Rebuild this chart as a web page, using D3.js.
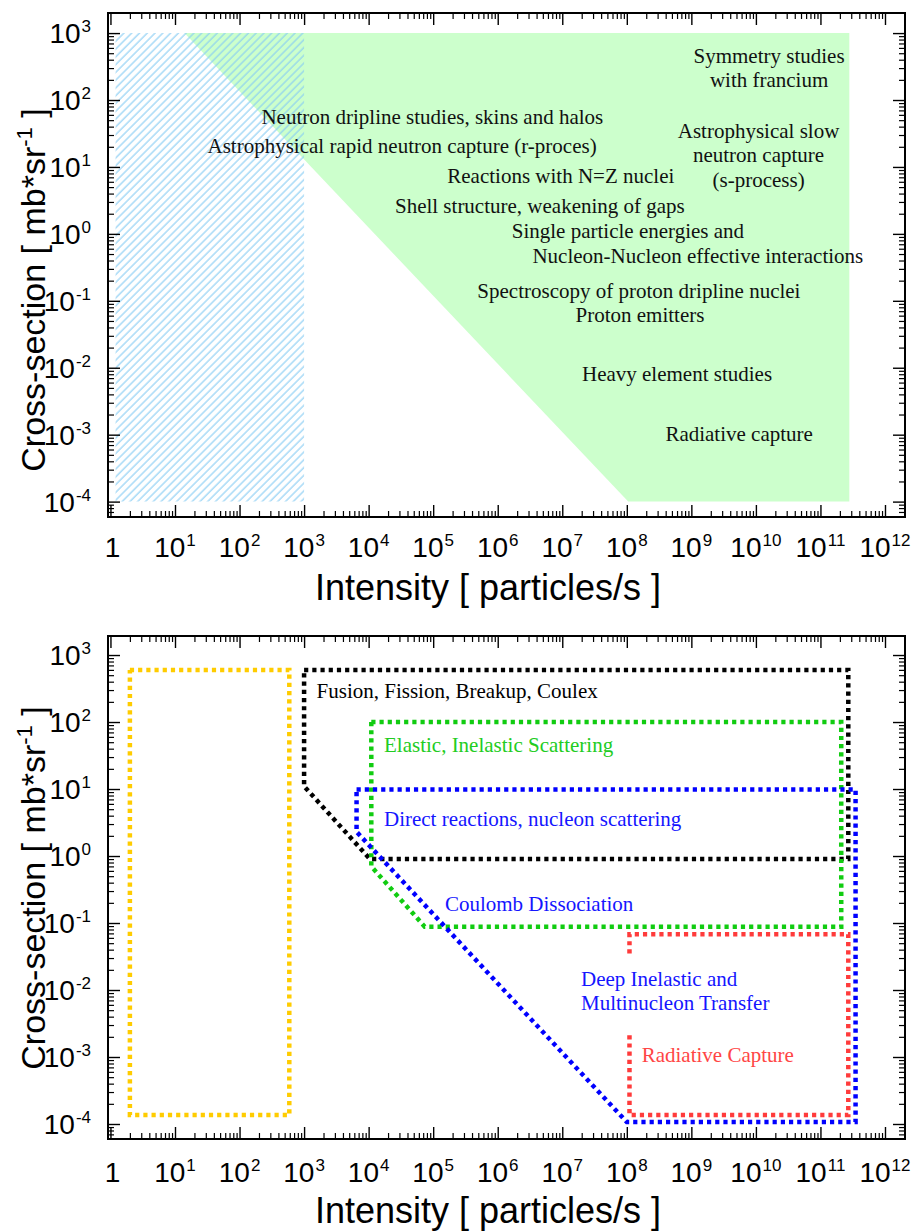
<!DOCTYPE html>
<html>
<head>
<meta charset="utf-8">
<script src="https://cdn.jsdelivr.net/npm/d3@7"></script>
<style>
  body { margin: 0; background: #fff; }
  svg { display: block; }
</style>
</head>
<body>
<svg id="chart" width="911" height="1231"></svg>
<script>
// ---- axis decades (exponents of the labelled ticks) ----
const xDecades = d3.range(0, 13);      // 1 .. 10^12 particles/s
const yDecades = d3.range(-4, 4);      // 10^-4 .. 10^3 mb/sr

// ---- upper panel: reach of the facility ----
// region below 10^3 particles/s (hatched)
const lowIntensityRegion = [[1.2, 1e-4], [1e3, 1e-4], [1e3, 1e3], [1.2, 1e3]];
// accessible region: intensity x cross-section above the limit line
const accessibleRegion = [[14, 1e3], [2.8e11, 1e3], [2.8e11, 1e-4], [1.05e8, 1e-4]];

// physics topics: [label, intensity, cross-section] (centre of text, baseline)
const physicsTopics = [
  ["Neutron dripline studies, skins and halos", 9.7e4, 44],
  ["Astrophysical rapid neutron capture (r-proces)", 3.3e4, 16.3],
  ["Reactions with N=Z nuclei", 9.5e6, 5.8],
  ["Shell structure, weakening of gaps", 4.5e6, 2.06],
  ["Single particle energies and", 1.04e8, 0.87],
  ["Nucleon-Nucleon effective interactions", 1.26e9, 0.37],
  ["Spectroscopy of proton dripline nuclei", 1.54e8, 0.11],
  ["Proton emitters", 1.6e8, 0.048],
  ["Heavy element studies", 6.0e8, 6.4e-3],
  ["Radiative capture", 5.5e9, 8.05e-4],
  ["Symmetry studies", 1.6e10, 360],
  ["with francium", 1.6e10, 157],
  ["Astrophysical slow", 1.1e10, 27.2],
  ["neutron capture", 1.1e10, 11.8],
  ["(s-process)", 1.1e10, 5.0]
];

// ---- lower panel: reaction types ----
const restBeamBox = [[2, 597], [590, 597], [590, 1.36e-4], [2, 1.36e-4], [2, 597]];
const fusionRegion = [[1e3, 600], [2.7e11, 600], [2.7e11, 0.9], [1.05e4, 0.9], [1e3, 11], [1e3, 600]];
const elasticRegion = [[1.1e4, 100], [2.1e11, 100], [2.1e11, 0.088], [7.4e4, 0.088], [1.1e4, 0.7], [1.1e4, 100]];
const directRegion = [[6.5e3, 9.8], [3.5e11, 9.8], [3.5e11, 1.07e-4], [1e8, 1.07e-4], [6.5e3, 2.3], [6.5e3, 9.8]];
const captureRegion = [[1.1e8, 0.035], [1.1e8, 0.068], [2.7e11, 0.068], [2.7e11, 1.36e-4], [1.1e8, 1.36e-4], [1.1e8, 2.3e-3]];

// reaction labels: [label, intensity, cross-section, colour key] (left edge, baseline)
const reactionLabels = [
  ["Fusion, Fission, Breakup, Coulex", 1.56e3, 228, "black"],
  ["Elastic, Inelastic Scattering", 1.73e4, 36, "green"],
  ["Direct reactions, nucleon scattering", 1.73e4, 2.8, "blue"],
  ["Coulomb Dissociation", 1.52e5, 0.151, "blue"],
  ["Deep Inelastic and", 1.95e7, 0.0115, "blue"],
  ["Multinucleon Transfer", 1.95e7, 5.0e-3, "blue"],
  ["Radiative Capture", 1.7e8, 8.5e-4, "red"]
];

const lineColors = { yellow: "#ffcc00", black: "#000000", green: "#11cc11", blue: "#0000ff", red: "#ff3b3b" };
const textColors = { black: "#000000", green: "#22cc22", blue: "#1515ff", red: "#ff4545" };

const SANS = "'Liberation Sans', Arial, sans-serif";
const SERIF = "'Liberation Serif', 'Times New Roman', serif";

const svg = d3.select("#chart");

// hatch pattern for the low-intensity band
svg.append("defs").append("pattern")
  .attr("id", "hatch")
  .attr("patternUnits", "userSpaceOnUse")
  .attr("width", 5.5).attr("height", 10)
  .attr("patternTransform", "rotate(45)")
  .append("line")
  .attr("x1", 1).attr("y1", 0).attr("x2", 1).attr("y2", 10)
  .attr("stroke", "#86ccf4").attr("stroke-width", 1.1);

const left = 108, right = 905;
const x = d3.scaleLog().domain([Math.pow(10, -0.038), Math.pow(10, 12.31)]).range([left, right]);

function minorTicks(scale, lo, hi) {
  const [d0, d1] = scale.domain();
  const out = [];
  for (let e = lo; e <= hi; e++) for (let k = 2; k <= 9; k++) {
    const v = k * Math.pow(10, e);
    if (v > d0 && v < d1) out.push(v);
  }
  return out;
}

function supLabel(sel, exp) {
  if (exp === 0 && sel.classed("xlab")) { sel.text("1"); return; }
  sel.append("tspan").text("10");
  sel.append("tspan").attr("font-size", 17).attr("dy", -11).attr("dx", 1).text(exp);
}

function drawFrame(g, y, top, bottom, xLabY) {
  const majorX = xDecades.map(e => Math.pow(10, e));
  const majorY = yDecades.map(e => Math.pow(10, e));
  const minX = minorTicks(x, -1, 12);
  const minY = minorTicks(y, -5, 3);

  const axes = [
    [d3.axisBottom(x), `translate(0,${bottom})`, majorX, minX],
    [d3.axisTop(x), `translate(0,${top})`, majorX, minX],
    [d3.axisLeft(y), `translate(${left},0)`, majorY, minY],
    [d3.axisRight(y), `translate(${right},0)`, majorY, minY]
  ];
  axes.forEach(([ax, tr, maj, min]) => {
    const a1 = g.append("g").attr("transform", tr)
      .call(ax.tickValues(maj).tickSizeInner(-12).tickSizeOuter(0).tickFormat(""));
    a1.select(".domain").remove();
    a1.selectAll(".tick line").attr("stroke", "#000").attr("stroke-width", 1.4);
    const a2 = g.append("g").attr("transform", tr)
      .call(ax.tickValues(min).tickSizeInner(-6).tickSizeOuter(0).tickFormat(""));
    a2.select(".domain").remove();
    a2.selectAll(".tick line").attr("stroke", "#000").attr("stroke-width", 1.2);
  });

  g.append("rect")
    .attr("x", left).attr("y", top)
    .attr("width", right - left).attr("height", bottom - top)
    .attr("fill", "none").attr("stroke", "#000").attr("stroke-width", 2);

  // x tick labels
  g.append("g").selectAll("text").data(xDecades).join("text")
    .classed("xlab", true)
    .attr("x", e => x(Math.pow(10, e)) + (e === 0 ? 2 : 0))
    .attr("y", xLabY)
    .attr("text-anchor", "middle")
    .attr("font-family", SANS).attr("font-size", 28)
    .each(function (e) { supLabel(d3.select(this), e); });

  // y tick labels
  g.append("g").selectAll("text").data(yDecades).join("text")
    .attr("x", 91)
    .attr("y", e => y(Math.pow(10, e)) + 10)
    .attr("text-anchor", "end")
    .attr("font-family", SANS).attr("font-size", 28)
    .each(function (e) { supLabel(d3.select(this), e); });
}

function drawTitles(g, titleY, yLabelCenter) {
  g.append("text")
    .attr("x", 488).attr("y", titleY)
    .attr("text-anchor", "middle")
    .attr("font-family", SANS).attr("font-size", 36)
    .text("Intensity [ particles/s ]");

  const yl = g.append("text")
    .attr("transform", `translate(45,${yLabelCenter}) rotate(-90)`)
    .attr("text-anchor", "middle")
    .attr("font-family", SANS).attr("font-size", 34);
  yl.append("tspan").text("Cross-section [ mb*sr");
  yl.append("tspan").attr("font-size", 22).attr("dy", -13).text("-1");
  yl.append("tspan").attr("dy", 13).text(" ]");
}

// ================= upper panel =================
const top1 = 13, bottom1 = 517;
const y1 = d3.scaleLog().domain([Math.pow(10, -4.23), Math.pow(10, 3.30)]).range([bottom1, top1]);
const g1 = svg.append("g");
const area1 = d3.line().x(d => x(d[0])).y(d => y1(d[1]));

g1.append("path")
  .attr("d", area1(accessibleRegion) + "Z")
  .attr("fill", "#ccffcc");

g1.append("path")
  .attr("d", area1(lowIntensityRegion) + "Z")
  .attr("fill", "url(#hatch)");

g1.append("g").selectAll("text").data(physicsTopics).join("text")
  .attr("x", d => x(d[1]))
  .attr("y", d => y1(d[2]))
  .attr("text-anchor", "middle")
  .attr("font-family", SERIF).attr("font-size", 21)
  .attr("fill", "#111")
  .text(d => d[0]);

drawFrame(g1, y1, top1, bottom1, 557);
drawTitles(g1, 600, 290);

// ================= lower panel =================
const top2 = 636, bottom2 = 1139;
const y2 = d3.scaleLog().domain([Math.pow(10, -4.224), Math.pow(10, 3.284)]).range([bottom2, top2]);
const g2 = svg.append("g");
const line2 = d3.line().x(d => x(d[0])).y(d => y2(d[1]));

const outlines = [
  [restBeamBox, "yellow"],
  [fusionRegion, "black"],
  [elasticRegion, "green"],
  [directRegion, "blue"],
  [captureRegion, "red"]
];
g2.append("g").selectAll("path").data(outlines).join("path")
  .attr("d", d => line2(d[0]))
  .attr("fill", "none")
  .attr("stroke", d => lineColors[d[1]])
  .attr("stroke-width", 4.5)
  .attr("stroke-dasharray", "4.2,4")
  .attr("stroke-linejoin", "miter");

g2.append("g").selectAll("text").data(reactionLabels).join("text")
  .attr("x", d => x(d[1]))
  .attr("y", d => y2(d[2]))
  .attr("font-family", SERIF).attr("font-size", 21)
  .attr("fill", d => textColors[d[3]])
  .text(d => d[0]);

drawFrame(g2, y2, top2, bottom2, 1182);
drawTitles(g2, 1223, 888);
</script>
</body>
</html>
